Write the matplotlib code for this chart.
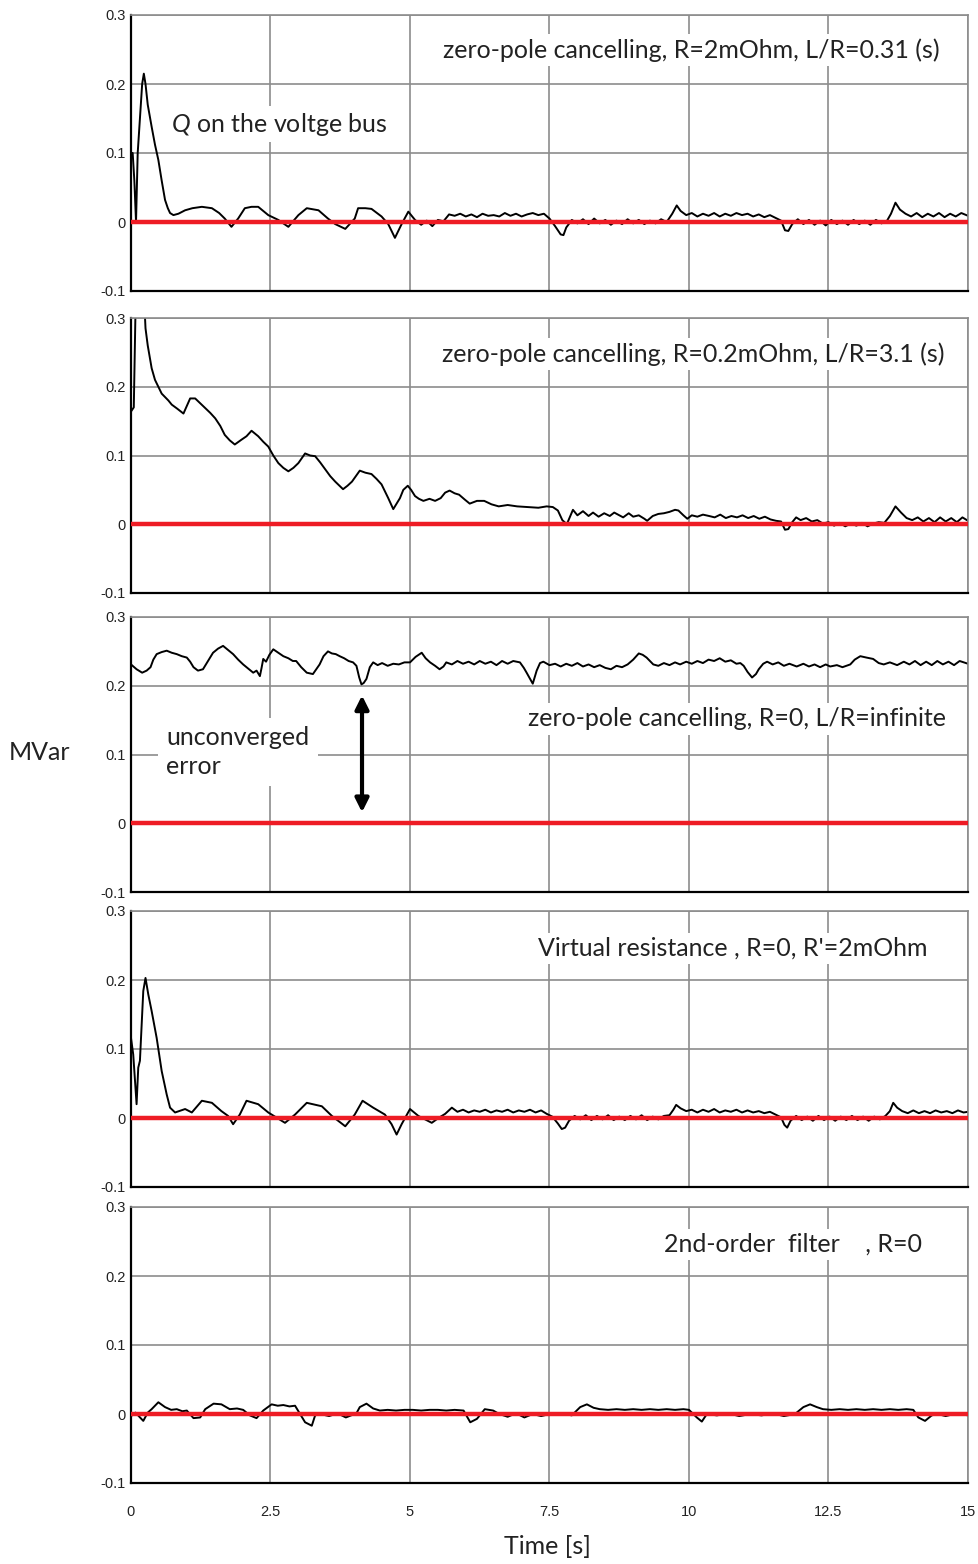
import matplotlib
matplotlib.use('Agg')
import matplotlib.pyplot as plt
import numpy as np

# ---- data ----
t1 = [0, 0.03, 0.06, 0.09, 0.12, 0.16, 0.2, 0.23, 0.26, 0.3, 0.37, 0.43, 0.49, 0.55, 0.61, 0.66,
      0.7, 0.76, 0.85, 0.97, 1.1, 1.27, 1.45, 1.58, 1.68, 1.8, 1.92, 2.04, 2.16, 2.28, 2.46, 2.64,
      2.82, 3.0, 3.15, 3.36, 3.53, 3.66, 3.84, 4.01, 4.07, 4.2, 4.31, 4.49, 4.61, 4.73, 4.85, 4.97,
      5.09, 5.2, 5.3, 5.4, 5.5, 5.6, 5.7, 5.8, 5.9, 6.0, 6.1, 6.2, 6.3, 6.4, 6.5, 6.6, 6.7, 6.8,
      6.9, 7.0, 7.1, 7.2, 7.3, 7.4, 7.5, 7.6, 7.7, 7.75, 7.8, 7.9, 8.0, 8.1, 8.2, 8.3, 8.4, 8.5,
      8.6, 8.7, 8.8, 8.9, 9.0, 9.1, 9.2, 9.3, 9.4, 9.5, 9.6, 9.7, 9.78, 9.85, 9.95, 10.05, 10.15,
      10.25, 10.35, 10.45, 10.55, 10.65, 10.75, 10.85, 10.95, 11.05, 11.15, 11.25, 11.35, 11.45,
      11.55, 11.65, 11.72, 11.78, 11.85, 11.95, 12.05, 12.15, 12.25, 12.35, 12.45, 12.55, 12.65,
      12.75, 12.85, 12.95, 13.05, 13.15, 13.25, 13.35, 13.45, 13.55, 13.62, 13.7, 13.78, 13.88,
      13.98, 14.08, 14.18, 14.28, 14.38, 14.48, 14.58, 14.68, 14.78, 14.88, 15.0]
q1 = [0.1, 0.1, 0.06, 0.0, 0.1, 0.15, 0.2, 0.215, 0.2, 0.17, 0.138, 0.112, 0.09, 0.06, 0.032, 0.02,
      0.013, 0.01, 0.012, 0.017, 0.02, 0.022, 0.02, 0.013, 0.005, -0.007, 0.005, 0.02, 0.022, 0.022,
      0.01, 0.003, -0.007, 0.01, 0.02, 0.017, 0.005, -0.003, -0.01, 0.005, 0.02, 0.02, 0.019, 0.008,
      -0.003, -0.023, -0.003, 0.015, 0.003, -0.004, 0.002, -0.006, 0.003, 0.001, 0.011, 0.009, 0.012,
      0.008, 0.011, 0.007, 0.012, 0.009, 0.01, 0.008, 0.013, 0.009, 0.012, 0.008, 0.011, 0.013, 0.01,
      0.012, 0.005, -0.006, -0.018, -0.019, -0.008, 0.003, -0.002, 0.004, -0.003, 0.005, -0.002, 0.003,
      -0.004, 0.002, -0.003, 0.004, -0.002, 0.003, -0.003, 0.002, -0.002, 0.004, 0.0, 0.012, 0.024,
      0.016, 0.01, 0.013, 0.008, 0.012, 0.009, 0.013, 0.008, 0.012, 0.009, 0.013, 0.01, 0.012, 0.008,
      0.011, 0.007, 0.01, 0.006, 0.002, -0.012, -0.013, -0.003, 0.004, -0.003, 0.003, -0.004, 0.002,
      -0.005, 0.003, -0.003, 0.002, -0.004, 0.003, -0.003, 0.002, -0.004, 0.003, -0.002, 0.002, 0.012,
      0.028, 0.018, 0.012, 0.008, 0.013, 0.007, 0.012, 0.008, 0.013, 0.007, 0.012, 0.008, 0.013, 0.009]

t2 = [0, 0.05, 0.07, 0.1, 0.18, 0.24, 0.26, 0.3, 0.37, 0.43, 0.49, 0.55, 0.61, 0.67, 0.73, 0.83,
      0.94, 1.0, 1.06, 1.15, 1.24, 1.33, 1.42, 1.51, 1.6, 1.68, 1.77, 1.86, 1.98, 2.07, 2.16, 2.28,
      2.37, 2.46, 2.55, 2.64, 2.73, 2.82, 2.91, 3.0, 3.12, 3.21, 3.3, 3.39, 3.48, 3.57, 3.66, 3.8,
      3.88, 3.96, 4.1, 4.2, 4.31, 4.4, 4.49, 4.55, 4.61, 4.7, 4.76, 4.82, 4.88, 4.96, 5.02, 5.09,
      5.16, 5.24, 5.35, 5.45, 5.55, 5.63, 5.71, 5.8, 5.88, 5.98, 6.07, 6.2, 6.33, 6.46, 6.59, 6.75,
      6.92, 7.1, 7.3, 7.45, 7.56, 7.65, 7.73, 7.81, 7.92, 8.0, 8.1, 8.2, 8.28, 8.38, 8.48, 8.58,
      8.66, 8.73, 8.82, 8.92, 9.0, 9.1, 9.2, 9.25, 9.35, 9.45, 9.55, 9.65, 9.75, 9.81, 9.9, 9.97,
      10.05, 10.15, 10.25, 10.36, 10.46, 10.56, 10.66, 10.76, 10.86, 10.96, 11.06, 11.16, 11.26,
      11.36, 11.46, 11.56, 11.65, 11.72, 11.78, 11.85, 11.92, 12.0, 12.1, 12.2, 12.3, 12.4, 12.5,
      12.6, 12.7, 12.8, 12.9, 13.0, 13.1, 13.2, 13.3, 13.4, 13.5, 13.6, 13.7, 13.8, 13.9, 14.0,
      14.1, 14.2, 14.3, 14.4, 14.5, 14.6, 14.7, 14.8, 14.9, 15.0]
q2 = [0.164, 0.17, 0.26, 0.4, 0.45, 0.32, 0.285, 0.26, 0.227, 0.21, 0.2, 0.19, 0.185, 0.18, 0.174,
      0.168, 0.161, 0.172, 0.183, 0.183, 0.176, 0.169, 0.162, 0.154, 0.143, 0.13, 0.122, 0.116, 0.123,
      0.128, 0.136, 0.128, 0.12, 0.113, 0.1, 0.089, 0.082, 0.077, 0.082, 0.089, 0.103, 0.1, 0.099,
      0.09, 0.08, 0.07, 0.062, 0.051, 0.056, 0.062, 0.078, 0.075, 0.073, 0.066, 0.058, 0.048, 0.038,
      0.022, 0.03, 0.038, 0.05, 0.056, 0.05, 0.041, 0.037, 0.034, 0.037, 0.034, 0.038, 0.046, 0.049,
      0.045, 0.043, 0.036, 0.03, 0.034, 0.034, 0.029, 0.026, 0.028, 0.026, 0.025, 0.024, 0.026, 0.025,
      0.02, 0.006, 0.0, 0.021, 0.013, 0.019, 0.012, 0.017, 0.011, 0.016, 0.012, 0.017, 0.014, 0.01,
      0.016, 0.011, 0.013, 0.008, 0.005, 0.012, 0.015, 0.016, 0.018, 0.021, 0.02, 0.013, 0.008, 0.013,
      0.011, 0.014, 0.012, 0.01, 0.014, 0.009, 0.012, 0.01, 0.013, 0.009, 0.012, 0.008, 0.011, 0.007,
      0.005, 0.004, -0.008, -0.007, 0.003, 0.01, 0.006, 0.009, 0.004, 0.006, 0.001, 0.003, -0.002,
      0.002, -0.003, 0.001, -0.002, 0.002, -0.003, 0.001, 0.003, 0.002, 0.012, 0.026, 0.017, 0.009,
      0.006, 0.01, 0.004, 0.009, 0.003, 0.01, 0.004, 0.009, 0.003, 0.01, 0.005]

t3 = [0, 0.1, 0.2, 0.28, 0.35, 0.4, 0.46, 0.55, 0.64, 0.73, 0.82, 0.91, 1.0, 1.06, 1.12, 1.2, 1.29,
      1.38, 1.47, 1.56, 1.65, 1.74, 1.83, 1.92, 2.01, 2.1, 2.19, 2.25, 2.31, 2.34, 2.37, 2.42, 2.48,
      2.55, 2.64, 2.73, 2.82, 2.9, 2.96, 3.05, 3.15, 3.26, 3.32, 3.38, 3.45, 3.53, 3.6, 3.67, 3.74,
      3.82, 3.9, 3.98, 4.04, 4.09, 4.13, 4.17, 4.22, 4.28, 4.34, 4.42, 4.5, 4.6, 4.7, 4.8, 4.9, 5.0,
      5.1, 5.21, 5.28, 5.36, 5.45, 5.53, 5.6, 5.65, 5.75, 5.85, 5.95, 6.05, 6.15, 6.25, 6.35, 6.45,
      6.55, 6.65, 6.75, 6.85, 6.97, 7.04, 7.09, 7.2, 7.27, 7.33, 7.39, 7.5, 7.6, 7.7, 7.8, 7.9, 8.0,
      8.1, 8.2, 8.3, 8.4, 8.5, 8.6, 8.7, 8.8, 8.9, 9.0, 9.1, 9.17, 9.24, 9.3, 9.36, 9.45, 9.55, 9.65,
      9.75, 9.84, 9.95, 10.05, 10.15, 10.25, 10.35, 10.45, 10.55, 10.65, 10.75, 10.85, 10.92, 10.98,
      11.05, 11.13, 11.2, 11.25, 11.33, 11.4, 11.5, 11.6, 11.7, 11.8, 11.93, 12.05, 12.15, 12.25,
      12.35, 12.45, 12.53, 12.65, 12.75, 12.89, 12.97, 13.07, 13.18, 13.3, 13.4, 13.49, 13.6, 13.73,
      13.85, 13.95, 14.05, 14.15, 14.25, 14.35, 14.45, 14.55, 14.65, 14.75, 14.85, 15.0]
q3 = [0.231, 0.224, 0.219, 0.222, 0.227, 0.238, 0.246, 0.249, 0.251, 0.248, 0.246, 0.243, 0.241,
      0.235, 0.227, 0.222, 0.224, 0.236, 0.248, 0.254, 0.258, 0.252, 0.246, 0.238, 0.231, 0.225, 0.219,
      0.222, 0.214, 0.226, 0.239, 0.235, 0.245, 0.253, 0.248, 0.243, 0.24, 0.236, 0.236, 0.227, 0.219,
      0.217, 0.224, 0.231, 0.243, 0.25, 0.247, 0.246, 0.243, 0.24, 0.236, 0.234, 0.229, 0.212, 0.202,
      0.204, 0.21, 0.227, 0.234, 0.23, 0.233, 0.229, 0.232, 0.231, 0.234, 0.234, 0.242, 0.248, 0.24,
      0.234, 0.229, 0.224, 0.228, 0.234, 0.231, 0.236, 0.232, 0.235, 0.231, 0.236, 0.232, 0.235, 0.23,
      0.236, 0.232, 0.236, 0.234, 0.226, 0.219, 0.203, 0.222, 0.233, 0.235, 0.23, 0.232, 0.228, 0.232,
      0.229, 0.233, 0.228, 0.231, 0.227, 0.23, 0.226, 0.224, 0.229, 0.227, 0.231, 0.238, 0.247, 0.245,
      0.241, 0.236, 0.231, 0.229, 0.233, 0.23, 0.234, 0.231, 0.235, 0.232, 0.236, 0.233, 0.238, 0.236,
      0.24, 0.235, 0.237, 0.232, 0.233, 0.229, 0.22, 0.212, 0.217, 0.224, 0.232, 0.235, 0.231, 0.234,
      0.229, 0.232, 0.228, 0.232, 0.228, 0.231, 0.227, 0.231, 0.228, 0.23, 0.227, 0.231, 0.238, 0.243,
      0.241, 0.239, 0.233, 0.231, 0.234, 0.23, 0.235, 0.231, 0.236, 0.23, 0.235, 0.23, 0.236, 0.231,
      0.235, 0.23, 0.236, 0.232]

t4 = [0, 0.04, 0.1, 0.13, 0.16, 0.22, 0.26, 0.31, 0.37, 0.46, 0.55, 0.64, 0.7, 0.79, 0.97, 1.09,
      1.27, 1.45, 1.62, 1.74, 1.83, 1.95, 2.07, 2.28, 2.46, 2.76, 2.94, 3.15, 3.42, 3.6, 3.84, 4.01,
      4.15, 4.34, 4.55, 4.67, 4.76, 4.85, 5.0, 5.15, 5.27, 5.39, 5.51, 5.63, 5.75, 5.85, 5.95, 6.05,
      6.15, 6.25, 6.35, 6.45, 6.55, 6.65, 6.75, 6.85, 6.95, 7.05, 7.15, 7.25, 7.35, 7.45, 7.55, 7.65,
      7.72, 7.78, 7.85, 7.95, 8.05, 8.15, 8.25, 8.35, 8.45, 8.55, 8.65, 8.75, 8.85, 8.95, 9.05, 9.15,
      9.25, 9.35, 9.45, 9.55, 9.65, 9.72, 9.77, 9.85, 9.95, 10.05, 10.15, 10.25, 10.35, 10.45, 10.55,
      10.65, 10.75, 10.85, 10.95, 11.05, 11.15, 11.25, 11.35, 11.45, 11.55, 11.65, 11.71, 11.76, 11.82,
      11.92, 12.02, 12.12, 12.22, 12.32, 12.42, 12.52, 12.62, 12.72, 12.82, 12.92, 13.02, 13.12,
      13.22, 13.32, 13.42, 13.52, 13.6, 13.66, 13.73, 13.82, 13.92, 14.02, 14.12, 14.22, 14.32,
      14.42, 14.52, 14.62, 14.72, 14.82, 14.92, 15.0]
q4 = [0.116, 0.092, 0.02, 0.073, 0.083, 0.184, 0.203, 0.179, 0.155, 0.116, 0.068, 0.034, 0.015,
      0.008, 0.013, 0.008, 0.025, 0.022, 0.01, 0.003, -0.009, 0.005, 0.025, 0.02, 0.008, -0.007, 0.005,
      0.022, 0.017, 0.003, -0.012, 0.005, 0.025, 0.015, 0.005, -0.009, -0.024, -0.009, 0.013, 0.003,
      -0.002, -0.007, 0.0, 0.006, 0.015, 0.009, 0.012, 0.008, 0.011, 0.009, 0.012, 0.008, 0.011,
      0.009, 0.012, 0.008, 0.011, 0.009, 0.012, 0.008, 0.011, 0.006, 0.002, -0.008, -0.016, -0.014,
      -0.004, 0.003, -0.002, 0.004, -0.003, 0.003, -0.002, 0.004, -0.003, 0.002, -0.003, 0.003,
      -0.002, 0.004, -0.003, 0.002, -0.002, 0.003, 0.004, 0.012, 0.019, 0.014, 0.01, 0.012, 0.008,
      0.012, 0.009, 0.013, 0.008, 0.011, 0.009, 0.012, 0.008, 0.011, 0.008, 0.01, 0.007, 0.009, 0.005,
      0.001, -0.01, -0.014, -0.004, 0.003, -0.003, 0.002, -0.004, 0.003, -0.003, 0.002, -0.004, 0.002,
      -0.003, 0.003, -0.003, 0.002, -0.004, 0.002, -0.002, 0.003, 0.01, 0.022, 0.015, 0.01, 0.007,
      0.011, 0.007, 0.01, 0.007, 0.011, 0.008, 0.01, 0.007, 0.011, 0.008, 0.009]

t5 = [0, 0.08, 0.15, 0.22, 0.3, 0.37, 0.49, 0.61, 0.72, 0.82, 0.92, 1.0, 1.12, 1.24, 1.33, 1.48,
      1.62, 1.77, 1.9, 2.01, 2.13, 2.25, 2.37, 2.52, 2.63, 2.73, 2.84, 2.94, 3.03, 3.12, 3.24, 3.3,
      3.39, 3.55, 3.7, 3.85, 4.04, 4.1, 4.22, 4.34, 4.46, 4.6, 4.75, 4.9, 5.05, 5.2, 5.35, 5.5, 5.65,
      5.8, 5.96, 6.08, 6.2, 6.34, 6.49, 6.6, 6.75, 6.9, 7.05, 7.2, 7.35, 7.51, 7.7, 7.9, 8.05, 8.17,
      8.29, 8.4, 8.55, 8.7, 8.85, 9.0, 9.15, 9.3, 9.45, 9.6, 9.75, 9.9, 10.0, 10.14, 10.23, 10.32,
      10.5, 10.7, 10.9, 11.1, 11.3, 11.5, 11.7, 11.9, 12.05, 12.17, 12.29, 12.4, 12.55, 12.7, 12.85,
      13.0, 13.15, 13.3, 13.45, 13.6, 13.75, 13.9, 14.02, 14.11, 14.23, 14.35, 14.45, 14.6, 14.8, 15.0]
q5 = [-0.003, 0.002, -0.004, -0.01, 0.002, 0.007, 0.017, 0.01, 0.006, 0.007, 0.004, 0.005, -0.006,
      -0.005, 0.007, 0.015, 0.014, 0.007, 0.008, 0.006, -0.002, -0.006, 0.005, 0.014, 0.012, 0.013,
      0.011, 0.012, 0.0, -0.012, -0.017, -0.002, 0.0, -0.003, 0.001, -0.005, 0.001, 0.01, 0.015, 0.008,
      0.005, 0.006, 0.005, 0.006, 0.006, 0.005, 0.006, 0.006, 0.005, 0.006, 0.005, -0.012, -0.007,
      0.007, 0.005, 0.0, -0.004, 0.001, -0.005, 0.0, -0.003, 0.0, 0.001, -0.002, 0.01, 0.014, 0.009,
      0.007, 0.006, 0.007, 0.006, 0.007, 0.006, 0.007, 0.006, 0.007, 0.006, 0.007, 0.006, -0.005,
      -0.011, 0.0, -0.002, 0.001, -0.003, 0.0, -0.002, 0.001, -0.003, 0.0, 0.01, 0.014, 0.01, 0.007,
      0.006, 0.007, 0.006, 0.007, 0.006, 0.007, 0.006, 0.007, 0.006, 0.007, 0.006, -0.005, -0.01,
      -0.002, 0.0, -0.003, 0.001, -0.002]

series = [(t1, q1), (t2, q2), (t3, q3), (t4, q4), (t5, q5)]
titles = ['zero-pole cancelling, R=2mOhm, L/R=0.31 (s)',
          'zero-pole cancelling, R=0.2mOhm, L/R=3.1 (s)',
          'zero-pole cancelling, R=0, L/R=infinite',
          "Virtual resistance , R=0, R'=2mOhm",
          '2nd-order  filter    , R=0']
title_pos = [(10.05, 0.249), (10.07, 0.248), (10.86, 0.152), (10.79, 0.246), (11.86, 0.246)]
yticks = [-0.1, 0, 0.1, 0.2, 0.3]
ytick_labels = ['-0.1', '0', '0.1', '0.2', '0.3']
xticks = [0, 2.5, 5, 7.5, 10, 12.5, 15]
xtick_labels = ['0', '2.5', '5', '7.5', '10', '12.5', '15']

plt.rcParams['mathtext.fontset'] = 'custom'
plt.rcParams['mathtext.it'] = 'Lato:italic'
plt.rcParams['mathtext.rm'] = 'Lato'

W, H = 979, 1564
tops = [15, 318, 617, 911, 1207]
bots = [291, 593, 892, 1187, 1483]
left, right = 131, 968
txt_col = '#222222'
grid_col = '#8c8c8c'
fs = 18

fig = plt.figure(figsize=(W / 100, H / 100), dpi=100)
axes = []
for i, (t, q) in enumerate(series):
    ax = fig.add_axes([left / W, 1 - bots[i] / H, (right - left) / W, (bots[i] - tops[i]) / H])
    ax.plot(t, q, color='black', linewidth=1.4, zorder=2)
    ax.axhline(0, color='#ee1c25', linewidth=3.2, zorder=3)
    ax.set_xlim(0, 15)
    ax.set_ylim(-0.1, 0.3)
    ax.set_xticks(xticks)
    ax.set_yticks(yticks)
    ax.set_yticklabels(ytick_labels, fontsize=10.5, color=txt_col, family='Liberation Sans')
    if i == 4:
        ax.set_xticklabels(xtick_labels, fontsize=10.5, color=txt_col, family='Liberation Sans')
    else:
        ax.set_xticklabels([])
    ax.tick_params(length=0, pad=4)
    ax.tick_params(axis='x', pad=16)
    ax.grid(True, color=grid_col, linewidth=1.2, zorder=0)
    ax.set_axisbelow(True)
    for s in ['left', 'bottom']:
        ax.spines[s].set_color('black')
        ax.spines[s].set_linewidth(1.6)
    for s in ['top', 'right']:
        ax.spines[s].set_color(grid_col)
        ax.spines[s].set_linewidth(1.2)
    tx, ty = title_pos[i]
    ax.text(tx, ty, titles[i], ha='center', va='center', fontsize=fs, family='Lato',
            color=txt_col, zorder=5,
            bbox=dict(facecolor='white', edgecolor='none', pad=3))
    axes.append(ax)

axes[0].text(2.65, 0.142, r'$\mathit{Q}$ on the voltge bus', ha='center', va='center',
             fontsize=fs, family='Lato', color=txt_col, zorder=5,
             bbox=dict(facecolor='white', edgecolor='none', pad=3))
axes[2].text(0.63, 0.104, 'unconverged\nerror', ha='left', va='center', fontsize=fs,
             family='Lato', color=txt_col, zorder=5, linespacing=1.3,
             bbox=dict(facecolor='white', edgecolor='none', pad=6))
axes[2].annotate('', xy=(4.14, 0.186), xytext=(4.14, 0.016),
                 arrowprops=dict(arrowstyle='<|-|>', color='black', lw=3, mutation_scale=20,
                                 shrinkA=0, shrinkB=0), zorder=6)

fig.text(40 / W, 1 - 752 / H, 'MVar', ha='center', va='center', fontsize=fs, family='Lato', color=txt_col)
fig.text(547 / W, 1 - 1547 / H, 'Time [s]', ha='center', va='center', fontsize=fs, family='Lato', color=txt_col)

fig.savefig('out.png', dpi=100)
